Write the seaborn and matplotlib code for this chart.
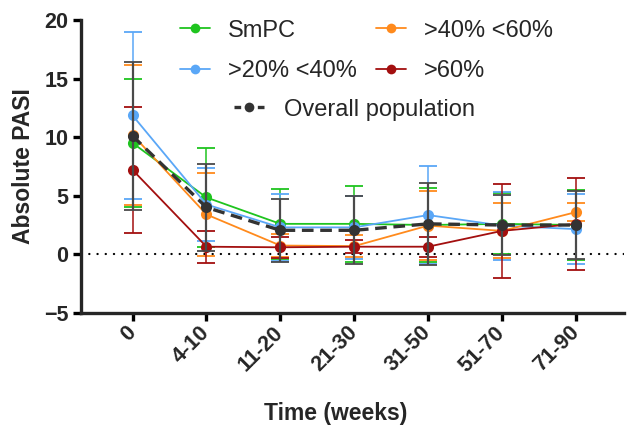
import matplotlib
matplotlib.use("Agg")
import matplotlib.pyplot as plt
from matplotlib.lines import Line2D
import seaborn as sns
import pandas as pd

# time windows (weeks)
categories = ["0", "4-10", "11-20", "21-30", "31-50", "51-70", "71-90"]

groups = ["SmPC", ">20% <40%", ">40% <60%", ">60%", "Overall population"]

smpc_mean = [9.5, 4.85, 2.6, 2.6, 2.5, 2.6, 2.5]
smpc_sd = [5.5, 4.2, 3.0, 3.25, 3.15, 2.6, 2.95]

b20_mean = [11.85, 4.25, 2.3, 2.3, 3.35, 2.45, 2.15]
b20_sd = [7.1, 3.15, 2.85, 2.7, 4.2, 2.9, 3.0]

b40_mean = [10.2, 3.4, 0.75, 0.7, 2.45, 2.0, 3.6]
b40_sd = [5.95, 3.55, 1.0, 0.95, 2.95, 2.35, 0.75]

b60_mean = [7.2, 0.65, 0.6, 0.65, 0.65, 2.0, 2.6]
b60_sd = [5.4, 1.35, 0.9, 0.55, 0.85, 4.0, 3.95]

overall_mean = [10.1, 4.0, 2.05, 2.05, 2.6, 2.5, 2.5]
overall_sd = [6.3, 3.7, 2.7, 2.9, 3.5, 2.6, 2.9]

colors = ["#1fc41f", "#5aa7f7", "#ff8a1c", "#a30f0f", "#333333"]

means = [smpc_mean, b20_mean, b40_mean, b60_mean, overall_mean]
sds = [smpc_sd, b20_sd, b40_sd, b60_sd, overall_sd]

rows = []
for g, m, s in zip(groups, means, sds):
    for i, c in enumerate(categories):
        rows.append({"group": g, "pos": i, "time": c, "mean": m[i], "sd": s[i]})
df = pd.DataFrame(rows)

sns.set_style("ticks")
plt.rcParams["font.family"] = ["Liberation Sans", "DejaVu Sans"]

fig = plt.figure(figsize=(6.27, 4.34), dpi=100)
ax = fig.add_axes([0.129, 0.279, 0.866, 0.675])

ax.axhline(0, color="black", lw=1.6, linestyle=(0, (0.1, 3.6)),
           dash_capstyle="round", zorder=1)

for k, (g, col) in enumerate(zip(groups, colors)):
    sub = df[df["group"] == g]
    overall = g == "Overall population"
    ecol = "#4a4a4a" if overall else col
    ax.errorbar(sub["pos"], sub["mean"], yerr=sub["sd"], fmt="none",
                ecolor=ecol, elinewidth=1.6 if overall else 1.1,
                capsize=6.5, capthick=1.3, zorder=2 + k)
    sns.lineplot(data=sub, x="pos", y="mean", color=col, ax=ax,
                 marker="o", markersize=8, markeredgewidth=0,
                 lw=2.4 if overall else 1.3,
                 linestyle=(0, (3.5, 2)) if overall else "-",
                 zorder=3 + k, legend=False)

ax.set_xlim(-0.7, 6.65)
ax.set_ylim(-5, 20)
ax.set_yticks([-5, 0, 5, 10, 15, 20])
ax.set_xticks(range(len(categories)))
ax.set_xticklabels(categories, rotation=45, ha="right", va="center",
                   rotation_mode="anchor")

for lab in ax.get_xticklabels() + ax.get_yticklabels():
    lab.set_fontweight("bold")
    lab.set_fontsize(15.5)

sns.despine(ax=ax)
for sp in ["left", "bottom"]:
    ax.spines[sp].set_linewidth(2.4)
ax.tick_params(width=2.4, length=6, pad=3, color="black")
ax.tick_params(axis="x", pad=6)

ax.set_xlabel("Time (weeks)", fontsize=16.5, fontweight="bold")
ax.set_ylabel("Absolute PASI", fontsize=16.5, fontweight="bold")
ax.xaxis.set_label_coords(0.47, -0.305)
ax.yaxis.set_label_coords(-0.085, 0.5)

handles = []
for g, col in zip(groups[:4], colors[:4]):
    handles.append(Line2D([], [], color=col, marker="o", markersize=7,
                          markeredgewidth=0, lw=1.3, label=g))
fig.legend(handles=handles, ncol=2, frameon=False, fontsize=17,
           loc="upper left", bbox_to_anchor=(0.287, 0.955),
           bbox_transform=fig.transFigure, borderpad=0,
           borderaxespad=0, handlelength=1.27, handletextpad=0.76,
           labelspacing=0.78, columnspacing=0.8)
h_all = Line2D([], [], color=colors[4], marker="o", markersize=7,
               markeredgewidth=0, lw=2.4, linestyle=(0, (2, 1.5)),
               label=groups[4])
fig.legend(handles=[h_all], frameon=False, fontsize=17, loc="upper left",
           bbox_to_anchor=(0.373, 0.773), bbox_transform=fig.transFigure,
           borderpad=0, borderaxespad=0, handlelength=1.27,
           handletextpad=0.85)

fig.savefig("out.png", dpi=100)
